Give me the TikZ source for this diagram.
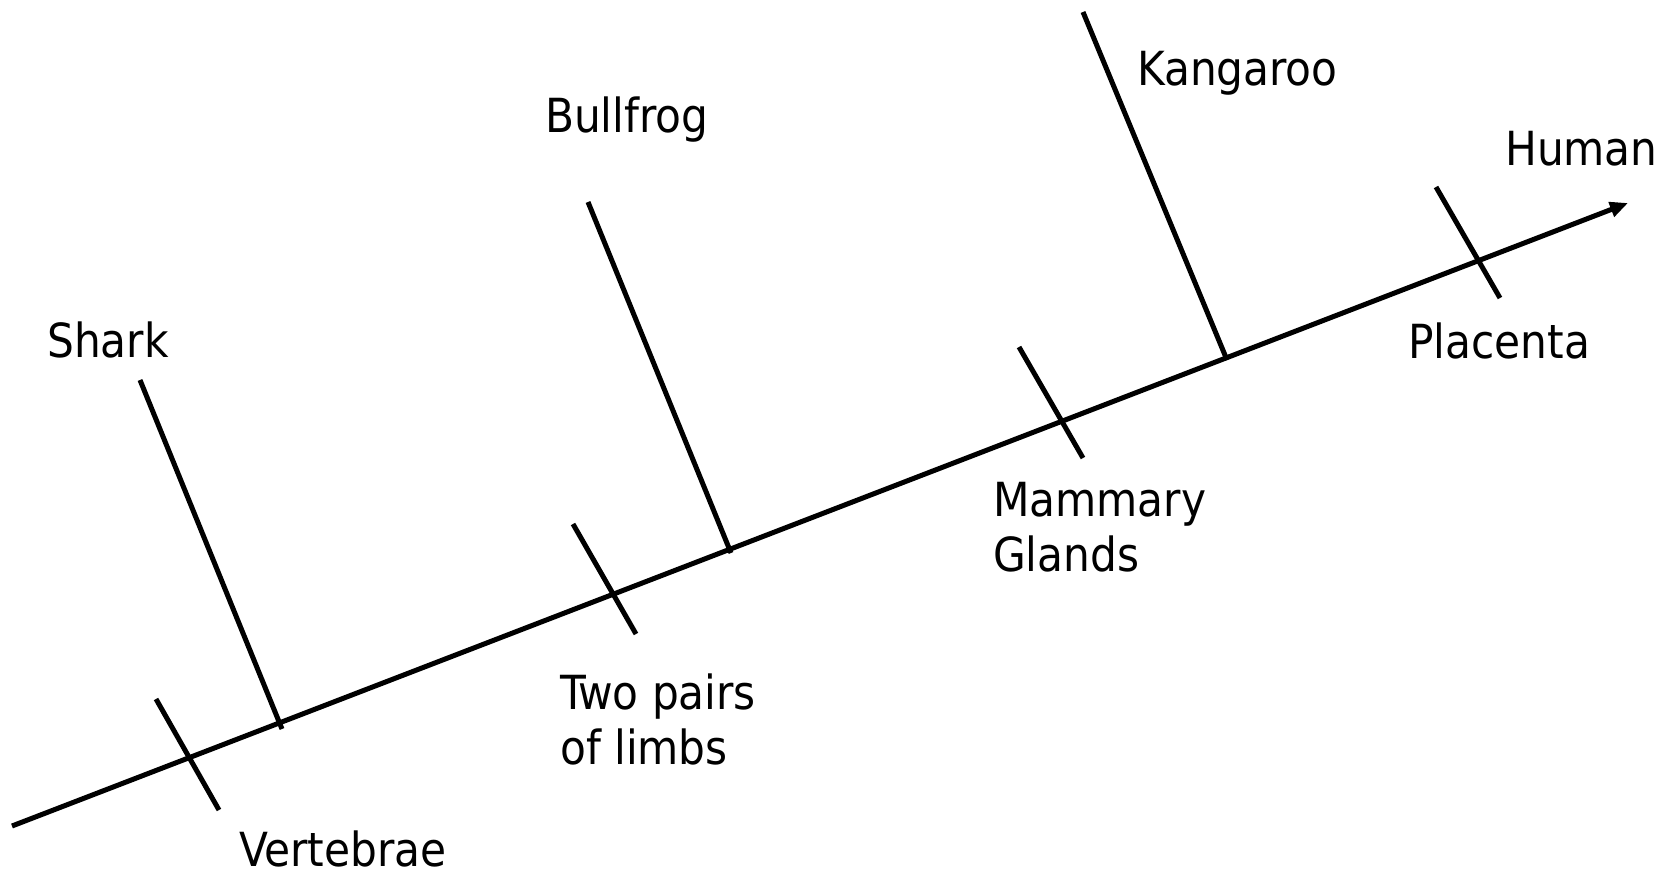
\documentclass[tikz,border=0pt]{standalone}
\usepackage{fontspec}
\setmainfont{DejaVu Sans Condensed}
\usetikzlibrary{arrows.meta}
\tikzset{
  axis/.style={line width=5pt, -{Triangle[length=18pt,width=15pt]}},
  tickmark/.style={line width=5pt},
  branch/.style={line width=5pt},
  lbl/.style={inner sep=0pt, font=\fontsize{47}{55}\selectfont, align=left}
}
\begin{document}
\begin{tikzpicture}[x=1pt,y=-1pt]
\useasboundingbox (0,0) rectangle (1671,875);
% main axis
\coordinate (start) at (12,826);
\coordinate (tip) at (1628,203);
\draw[axis] (start) -- (tip);
% ticks (characters)
\coordinate (v1) at (156,699); \coordinate (v2) at (219,810);
\coordinate (t1) at (573,524); \coordinate (t2) at (636,634);
\coordinate (m1) at (1019,347); \coordinate (m2) at (1083,458);
\coordinate (p1) at (1436,187); \coordinate (p2) at (1500,298);
\draw[tickmark] (v1) -- (v2);
\draw[tickmark] (t1) -- (t2);
\draw[tickmark] (m1) -- (m2);
\draw[tickmark] (p1) -- (p2);
% branches (taxa)
\coordinate (sb) at (282,729); \coordinate (st) at (140,380);
\coordinate (bb) at (731,553); \coordinate (bt) at (588,202);
\coordinate (kb) at (1227,360); \coordinate (kt) at (1083,12);
\draw[branch] (sb) -- (st);
\draw[branch] (bb) -- (bt);
\draw[branch] (kb) -- (kt);
% labels
\node[lbl, anchor=base west] (shark) at (47,357) {Shark};
\node[lbl, anchor=base west] (bullfrog) at (545,132) {Bullfrog};
\node[lbl, anchor=base west] (kangaroo) at (1137,85) {Kangaroo};
\node[lbl, anchor=base west] (human) at (1505,165) {Human};
\node[lbl, anchor=base west] (placenta) at (1408,358) {Placenta};
\node[lbl, anchor=base west] (vertebrae) at (239,866) {Vertebrae};
\node[lbl, anchor=north west] (twopairs) at (560,674) {Two pairs\\of limbs};
\node[lbl, anchor=north west] (mammary) at (993,482) {Mammary\\Glands};
\end{tikzpicture}
\end{document}
